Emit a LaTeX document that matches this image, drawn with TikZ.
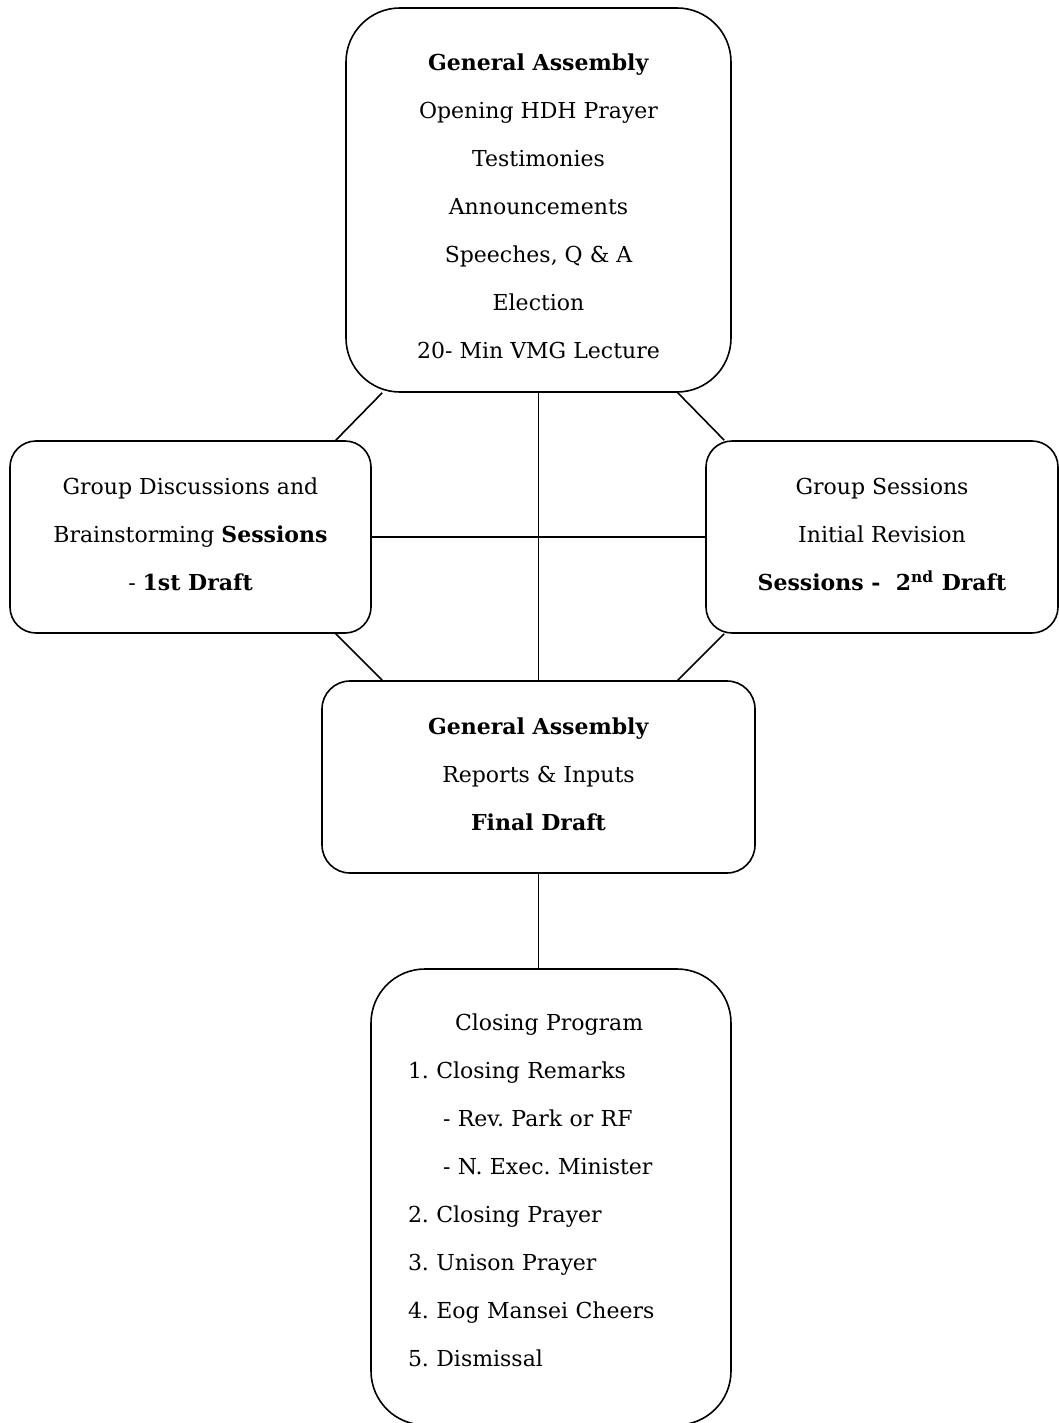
\documentclass[tikz,border=0pt]{standalone}
\usepackage{fontspec}
\setmainfont{DejaVu Serif}
\usetikzlibrary{calc}
\newcommand{\lift}[1]{\rule[-#1]{0pt}{0pt}}

\begin{document}
\frenchspacing
\begin{tikzpicture}[
  box/.style={draw,line width=0.8pt,rounded corners=#1,inner sep=0pt,align=center,
    font=\fontsize{11}{24}\selectfont},
  box/.default=13pt,
  link/.style={line width=0.8pt}
]
  \useasboundingbox (0,0) rectangle (529.5pt,-711.5pt);
  \node[box=27pt,minimum width=192.5pt,minimum height=192pt] (opening) at (269.25pt,-100pt)
    {\rule{0pt}{14.5pt}\textbf{General Assembly}\\Opening HDH Prayer\\Testimonies\\Announcements\\Speeches, Q \& A\\Election\\20- Min VMG Lecture};
  \node[box,minimum width=180.5pt,minimum height=96pt] (discuss) at (95.25pt,-268.5pt)
    {Group Discussions and\\Brainstorming \textbf{Sessions}\\- \textbf{1st Draft}\lift{3pt}};
  \node[box,minimum width=176pt,minimum height=96pt] (revision) at (441pt,-268.5pt)
    {Group Sessions\\Initial Revision\\\textbf{Sessions -\ \ 2\textsuperscript{nd} Draft}\lift{3pt}};
  \node[box=14pt,minimum width=216.5pt,minimum height=96pt] (final) at (269.25pt,-388.5pt)
    {\textbf{General Assembly}\\Reports \& Inputs\\\textbf{Final Draft}\lift{3pt}};
  \node[box=27pt,align=left,inner xsep=18.5pt,text width=143pt,minimum height=228pt] (closing) at (275.5pt,-598.5pt)
    {\hspace*{23.5pt}Closing Program\\1. Closing Remarks\\\hspace*{17.5pt}- Rev. Park or RF\\\hspace*{17.5pt}- N. Exec. Minister\\2. Closing Prayer\\3. Unison Prayer\\4. Eog Mansei Cheers\\5. Dismissal\lift{7pt}};

  \draw[link] (opening) -- (final);
  \draw[link] (discuss) -- (revision);
  \draw[link] (final.south) -- (final.south |- closing.north);
  \draw[link] ($(opening.south west)+(18.5pt,0)$) -- ($(discuss.north east)+(-18pt,0)$);
  \draw[link] ($(opening.south east)+(-27pt,0)$) -- ($(revision.north west)+(9.5pt,0)$);
  \draw[link] ($(discuss.south east)+(-18pt,0)$) -- ($(final.north west)+(30.5pt,0)$);
  \draw[link] ($(revision.south west)+(9.5pt,0)$) -- ($(final.north east)+(-39pt,0)$);
\end{tikzpicture}
\end{document}
